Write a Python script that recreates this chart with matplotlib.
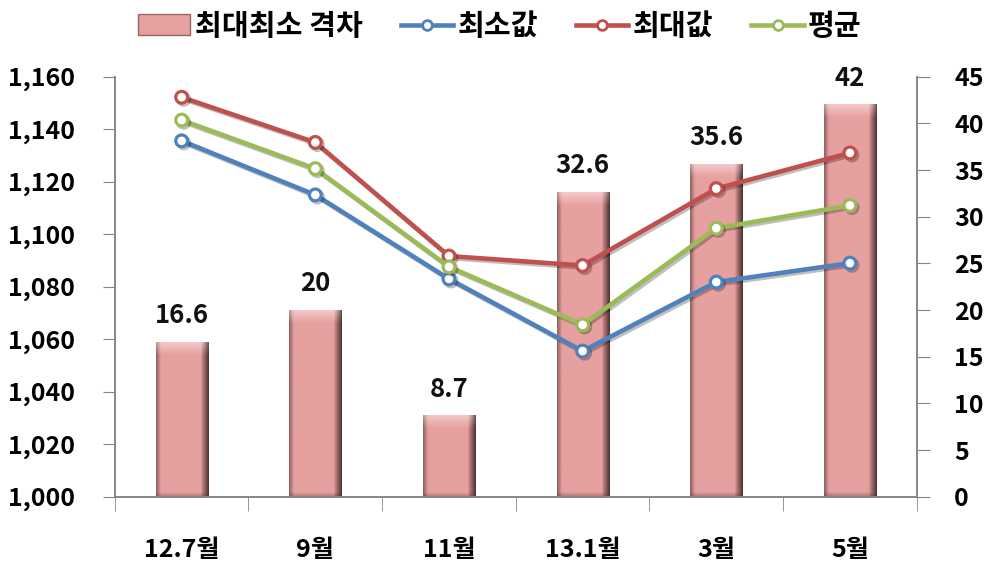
import numpy as np
import matplotlib
matplotlib.use("Agg")
import matplotlib.pyplot as plt
import matplotlib.patheffects as pe
from matplotlib.patches import Patch
from matplotlib.lines import Line2D
from matplotlib.colors import to_rgb

plt.rcParams['font.family'] = ['Noto Sans CJK KR', 'DejaVu Sans']
plt.rcParams['font.weight'] = 'bold'

# data
months = ['12.7월', '9월', '11월', '13.1월', '3월', '5월']
gap = [16.6, 20, 8.7, 32.6, 35.6, 42]
min_val = [1135.6, 1115.0, 1083.0, 1055.5, 1081.8, 1089.0]
max_val = [1152.2, 1135.0, 1091.7, 1088.1, 1117.4, 1131.0]
avg_val = [1143.5, 1125.0, 1087.6, 1065.5, 1102.3, 1111.0]

c_min = '#4F81BD'
c_max = '#C0504D'
c_avg = '#9BBB59'
c_bar = '#E6A0A0'
c_axis = '#868686'

fig = plt.figure(figsize=(9.9, 5.73), dpi=100)
ax = fig.add_axes([0.116, 0.133, 0.81, 0.733])
ax2 = ax.twinx()
ax.set_zorder(2)
ax.patch.set_visible(False)

x = np.arange(len(months))
w = 0.39


def bar_image(h, rows=300, cols=60, bevel=1.4):
    base = np.array(to_rgb(c_bar))
    dark = np.array(to_rgb('#4A2E2C'))
    light = np.array(to_rgb('#F7D2D2'))
    u = np.linspace(0, 1, cols)[np.newaxis, :]
    v = np.linspace(1, 0, rows)[:, np.newaxis] * h  # top row first
    # side shading
    left = np.clip(1 - u / 0.09, 0, 1) * 0.55
    right = np.clip((u - 0.85) / 0.15, 0, 1) ** 0.9 * 0.95
    d = np.maximum(left, right) * np.ones_like(v)
    # top bevel
    t = np.clip((v - (h - bevel)) / bevel, 0, 1) * np.ones_like(u)
    t = t * (1 - np.maximum(left, right) * 0.8)
    img = base * (1 - d[..., None]) + dark * d[..., None]
    img = img * (1 - 0.8 * t[..., None]) + light * 0.8 * t[..., None]
    # bottom darker fringe
    b = np.clip(1 - v / 0.5, 0, 1) * 0.35 * np.ones_like(u)
    img = img * (1 - b[..., None]) + dark * b[..., None]
    return img


for xi, h in zip(x, gap):
    ax2.imshow(bar_image(h), aspect='auto', interpolation='bilinear',
               extent=(xi - w / 2, xi + w / 2, 0, h), zorder=1)
    ax2.text(xi, h + 1.4, f'{h:g}', ha='center', va='bottom', fontsize=18.5,
             fontweight='black', color='#111111')

shadow = [pe.SimpleLineShadow(offset=(1.5, -1.5), alpha=0.25), pe.Normal()]
for vals, col in [(min_val, c_min), (max_val, c_max), (avg_val, c_avg)]:
    ax.plot(x, vals, color=col, lw=3.3, marker='o', markersize=8.5,
            markerfacecolor='white', markeredgecolor=col, markeredgewidth=2.3,
            path_effects=shadow, zorder=3)

ax.set_xlim(-0.5, 5.5)
ax.set_ylim(1000, 1160)
ax2.set_ylim(0, 45)
ax.set_yticks(np.arange(1000, 1161, 20))
ax.set_yticklabels([f'{v:,}' for v in range(1000, 1161, 20)])
ax2.set_yticks(np.arange(0, 46, 5))

ax.set_xticks(x)
ax.set_xticklabels(months)
ax.set_xticks(np.arange(-0.5, 6, 1), minor=True)
ax.tick_params(axis='x', which='major', length=0, pad=30, labelsize=18)
ax.tick_params(axis='x', which='minor', length=10, color=c_axis)
ax.tick_params(axis='y', length=9, color=c_axis, labelsize=18, pad=20)
ax2.tick_params(axis='y', length=9, color=c_axis, labelsize=18, pad=18)
for lab in ax.get_xticklabels() + ax.get_yticklabels() + ax2.get_yticklabels():
    lab.set_fontweight('black')

for a in (ax, ax2):
    a.spines['top'].set_visible(False)
    for s in ('left', 'right', 'bottom'):
        a.spines[s].set_color(c_axis)
        a.spines[s].set_linewidth(1.2)

handles = [
    Patch(facecolor=c_bar, edgecolor='#9B6464'),
    Line2D([], [], color=c_min, lw=3.3, marker='o', markersize=7,
           markerfacecolor='white', markeredgecolor=c_min, markeredgewidth=2),
    Line2D([], [], color=c_max, lw=3.3, marker='o', markersize=7,
           markerfacecolor='white', markeredgecolor=c_max, markeredgewidth=2),
    Line2D([], [], color=c_avg, lw=3.3, marker='o', markersize=7,
           markerfacecolor='white', markeredgecolor=c_avg, markeredgewidth=2),
]
labels = ['최대최소 격차', '최소값', '최대값', '평균']
fig.legend(handles, labels, loc='center', bbox_to_anchor=(0.505, 0.955), ncol=4,
           frameon=False, prop={'size': 21, 'weight': 'black'},
           handlelength=1.8, handletextpad=0.15, columnspacing=1.3)

fig.savefig('out.png', dpi=100)
